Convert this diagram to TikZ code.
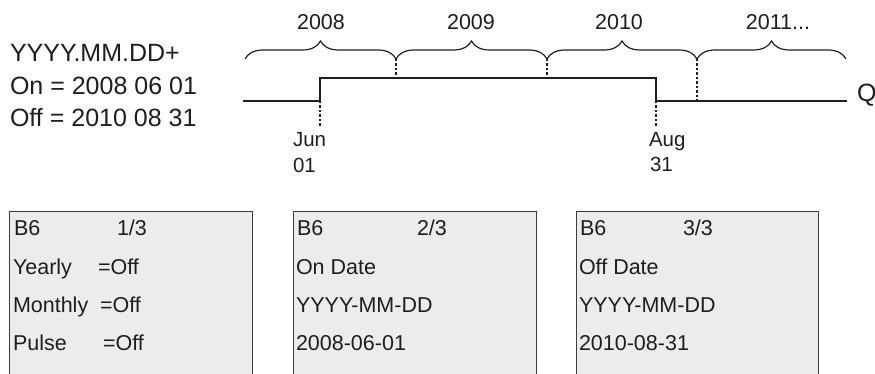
\documentclass[tikz,border=0pt]{standalone}
\usepackage{fontspec}
\setmainfont{Liberation Sans}
\usetikzlibrary{decorations.pathreplacing,calc}
\definecolor{cInk}{HTML}{1E1E1E}
\definecolor{cLcd}{HTML}{ECECEC}
\definecolor{cFrame}{HTML}{3C3C3C}
\newcommand{\fsz}[1]{\fontsize{#1}{#1}\selectfont}
\tikzset{
  txt/.style  ={inner sep=0pt,outer sep=0pt,text=cInk,anchor=base west},
  big/.style  ={txt,font=\fsz{25}},
  yr/.style   ={txt,anchor=base,font=\fsz{21.5}},
  dlbl/.style ={txt,font=\fsz{20.5}},
  row/.style  ={txt,font=\fsz{21.5}},
  lcd/.style  ={draw=cFrame,fill=cLcd,line width=1.1pt,anchor=north west,
                minimum width=243pt,minimum height=180pt,inner sep=0pt},
  sig/.style  ={draw=cInk,line width=2.6pt},
  brc/.style  ={draw=cInk,line width=1.2pt,decorate,decoration={brace,amplitude=18pt}},
  tick/.style ={draw=cInk,line width=1.6pt,dash pattern=on 2.5pt off 2pt},
}

\begin{document}
\begin{tikzpicture}[x=1pt,y=1pt]
\useasboundingbox (0,0) rectangle (875,-374);
\clip (0,0) rectangle (875,-374);

% parameter text
\node[big] (fmt) at (10,-61.5) {YYYY.MM.DD+};
\node[big] (on)  at (10,-95)   {On = 2008 06 01};
\node[big] (off) at (10,-126.5) {Off = 2010 08 31};

% output Q
\coordinate (s0) at (243,-101);
\coordinate (s1) at (320,-101);
\coordinate (s2) at (320,-78);
\coordinate (s3) at (656,-78);
\coordinate (s4) at (656,-101);
\coordinate (s5) at (847,-101);
\draw[sig] (s0) -- (s1) -- (s2) -- (s3) -- (s4) -- (s5);
\node[txt,font=\fsz{25}] (q) at (857,-102) {Q};

% years
\coordinate (b0) at (245,-59);
\coordinate (b1) at (396,-59);
\coordinate (b2) at (547,-59);
\coordinate (b3) at (697,-59);
\coordinate (b4) at (846,-59);
\draw[brc] (b0) -- (b1);
\draw[brc] (b1) -- (b2);
\draw[brc] (b2) -- (b3);
\draw[brc] (b3) -- (b4);
\node[yr] (y1) at (321,-30) {2008};
\node[yr] (y2) at (471,-30) {2009};
\node[yr] (y3) at (619,-30) {2010};
\node[yr] (y4) at (778,-30) {2011...};
\draw[tick] (b1) -- (b1 |- s3);
\draw[tick] (b2) -- (b2 |- s3);
\draw[tick] (b3) -- (b3 |- s5);

% switching dates
\coordinate (jd) at (320,-126);
\coordinate (ad) at (656,-126);
\draw[tick] (s1) -- (jd);
\draw[tick] (s4) -- (ad);
\node[dlbl] (jun) at (293,-146.5) {Jun};
\node[dlbl] (jdd) at (293,-173)   {01};
\node[dlbl] (aug) at (649,-146.5) {Aug};
\node[dlbl] (add) at (650,-172)   {31};

% display pages
\node[lcd] (p1) at (9,-211) {};
\node[lcd] (p2) at (293,-211) {};
\node[lcd,minimum width=242pt] (p3) at (576,-211) {};

\node[row] (p1a) at (14,-235)  {B6};
\node[row] (p1b) at (117,-235) {1/3};
\node[row] (p1c) at (13,-274)  {Yearly};
\node[row] (p1d) at (98,-274)  {=Off};
\node[row] (p1e) at (13,-312)  {Monthly};
\node[row] (p1f) at (100,-312) {=Off};
\node[row] (p1g) at (13,-350)  {Pulse};
\node[row] (p1h) at (103,-350) {=Off};

\node[row] (p2a) at (297,-235) {B6};
\node[row] (p2b) at (417,-235) {2/3};
\node[row] (p2c) at (296,-274) {On Date};
\node[row] (p2d) at (296,-312) {YYYY-MM-DD};
\node[row] (p2e) at (296,-350) {2008-06-01};

\node[row] (p3a) at (580,-235) {B6};
\node[row] (p3b) at (683,-235) {3/3};
\node[row] (p3c) at (579,-274) {Off Date};
\node[row] (p3d) at (579,-312) {YYYY-MM-DD};
\node[row] (p3e) at (579,-350) {2010-08-31};
\end{tikzpicture}
\end{document}
